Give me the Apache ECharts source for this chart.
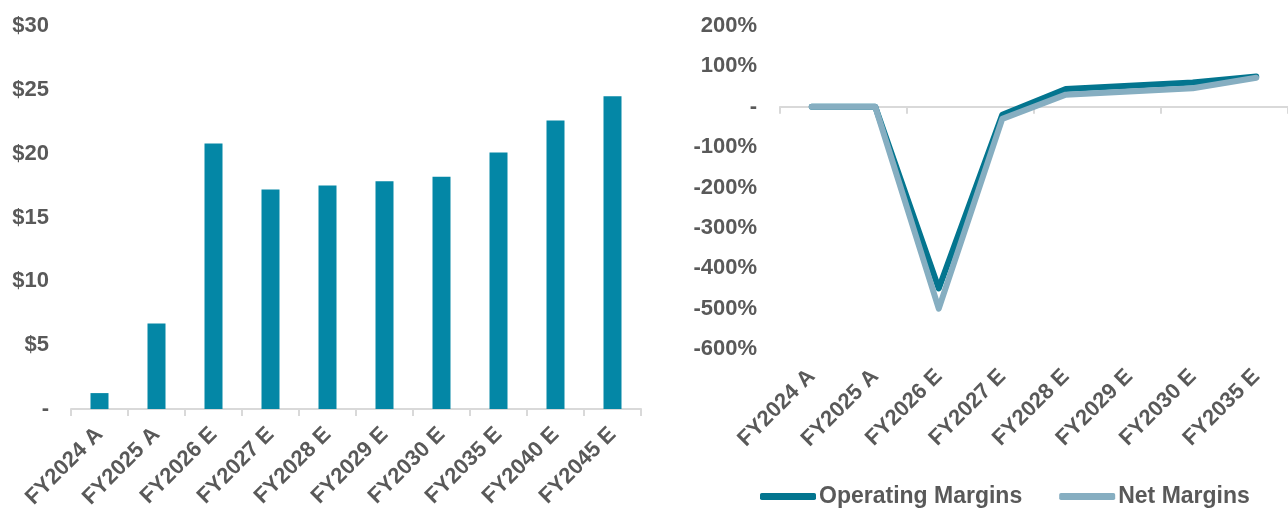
<!DOCTYPE html>
<html>
<head>
<meta charset="utf-8">
<script src="https://cdn.jsdelivr.net/npm/echarts@6/dist/echarts.min.js"></script>
<style>
html,body{margin:0;padding:0;background:#fff;}
#c{width:1288px;height:511px;}
</style>
</head>
<body>
<div id="c"></div>
<script>
var barCategories = ['FY2024 A','FY2025 A','FY2026 E','FY2027 E','FY2028 E','FY2029 E','FY2030 E','FY2035 E','FY2040 E','FY2045 E'];
var barValues = [1.25, 6.7, 20.8, 17.2, 17.5, 17.85, 18.2, 20.1, 22.6, 24.5];
var marginCategories = ['FY2024 A','FY2025 A','FY2026 E','FY2027 E','FY2028 E','FY2029 E','FY2030 E','FY2035 E'];
var operatingMargins = [0, 0, -450, -20, 44, 52, 60, 75];
var netMargins = [0, 0, -500, -30, 30, 38, 46, 72];

var TXT = '#595959';
var AX = '#d9d9d9';
var FONT = '"Liberation Sans", Arial, sans-serif';
var labelStyle = {color: TXT, fontSize: 22, fontWeight: 'bold', fontFamily: FONT};

var chart = echarts.init(document.getElementById('c'));
chart.setOption({
  animation: false,
  backgroundColor: '#fff',
  textStyle: {fontFamily: FONT},
  grid: [
    {left: 71, top: 26, width: 570, height: 385, containLabel: false},
    {left: 780, top: 26, width: 514, height: 323, containLabel: false}
  ],
  legend: {
    left: 760, top: 485, padding: 0,
    itemWidth: 56, itemHeight: 7, itemGap: 37,
    icon: 'roundRect',
    textStyle: {color: TXT, fontSize: 23, fontWeight: 'bold', fontFamily: FONT, padding: [0,0,0,-2]},
    data: ['Operating Margins', 'Net Margins']
  },
  xAxis: [
    {
      type: 'category', gridIndex: 0, data: barCategories,
      axisLine: {lineStyle: {color: AX, width: 2}},
      axisTick: {show: true, length: 7, lineStyle: {color: AX, width: 2}},
      axisLabel: Object.assign({rotate: 45, interval: 0, margin: 22}, labelStyle)
    },
    {
      type: 'category', gridIndex: 1, data: marginCategories,
      axisLine: {onZero: true, lineStyle: {color: AX, width: 2}},
      axisTick: {show: true, length: 7, lineStyle: {color: AX, width: 2}},
      axisLabel: {show: false}
    },
    {
      type: 'category', gridIndex: 1, data: marginCategories, position: 'bottom',
      axisLine: {show: false, onZero: false},
      axisTick: {show: false},
      axisLabel: Object.assign({rotate: 45, interval: 0, margin: 24}, labelStyle)
    }
  ],
  yAxis: [
    {
      type: 'value', gridIndex: 0, min: 0, max: 30, interval: 5,
      axisLine: {show: false}, axisTick: {show: false}, splitLine: {show: false},
      axisLabel: Object.assign({margin: 22, formatter: function(v){ return v === 0 ? '-' : '$' + v; }}, labelStyle)
    },
    {
      type: 'value', gridIndex: 1, min: -600, max: 200, interval: 100,
      axisLine: {show: false}, axisTick: {show: false}, splitLine: {show: false},
      axisLabel: Object.assign({margin: 23, formatter: function(v){ return v === 0 ? '-' : v + '%'; }}, labelStyle)
    }
  ],
  series: [
    {
      type: 'bar', xAxisIndex: 0, yAxisIndex: 0, data: barValues,
      barWidth: 18, itemStyle: {color: '#0487a6'}
    },
    {
      name: 'Operating Margins', type: 'line', xAxisIndex: 1, yAxisIndex: 1, data: operatingMargins,
      symbol: 'none', color: '#03758f',
      lineStyle: {width: 6, color: '#03758f', cap: 'round', join: 'round'}
    },
    {
      name: 'Net Margins', type: 'line', xAxisIndex: 1, yAxisIndex: 1, data: netMargins,
      symbol: 'none', color: '#86aec1',
      lineStyle: {width: 6, color: '#86aec1', cap: 'round', join: 'round'}
    }
  ]
});
</script>
</body>
</html>
